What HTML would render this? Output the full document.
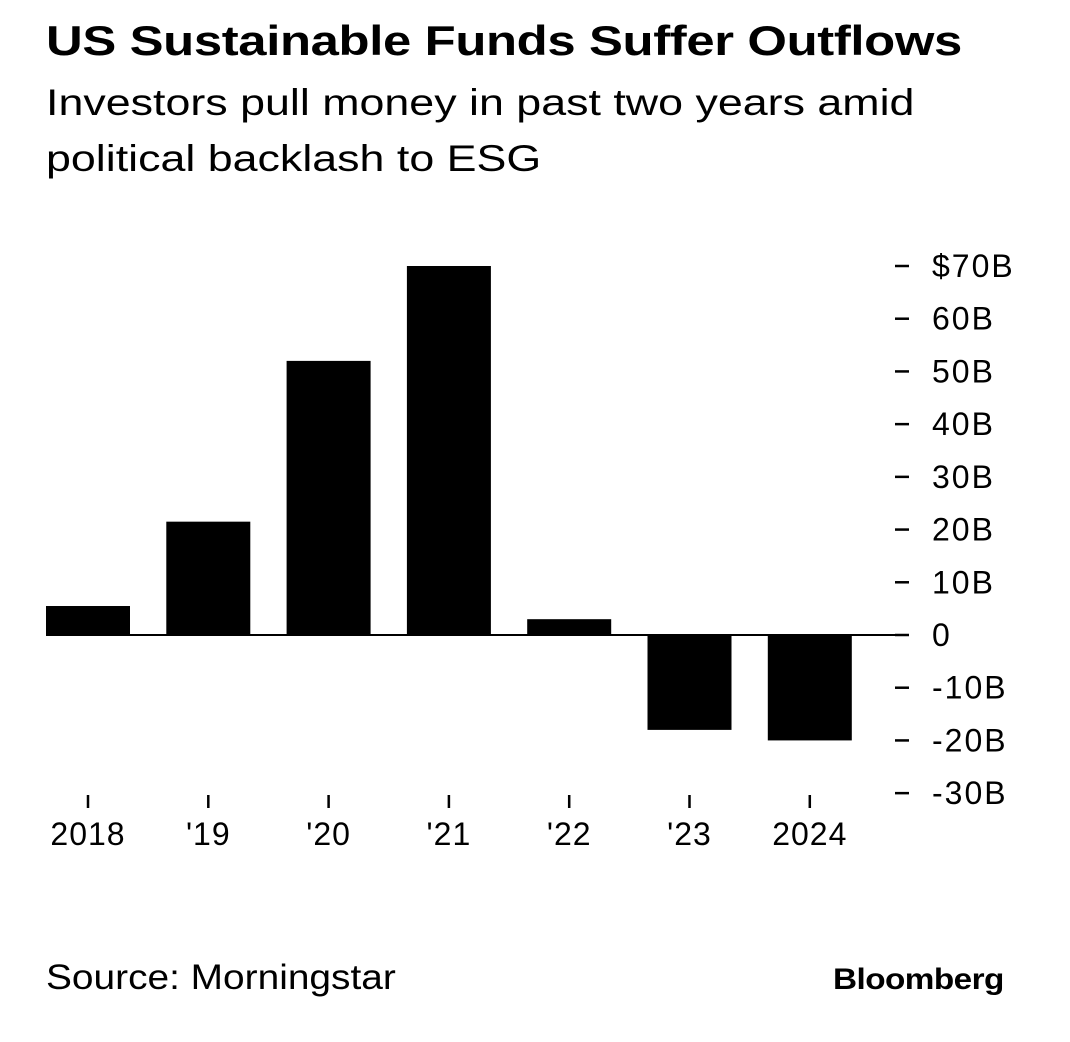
<!DOCTYPE html>
<html><head><meta charset="utf-8"><style>
body{margin:0;background:#fff;font-family:"Liberation Sans",Arial,sans-serif;color:#000}
#wrap{position:relative;width:1070px;height:1042px;overflow:hidden}
.t{position:absolute;white-space:nowrap;transform-origin:0 0}
</style></head><body>
<div id="wrap">
<div class="t" style="left:46px;top:17px;font-size:42px;font-weight:bold;letter-spacing:-0.3px;transform:scaleX(1.21)">US Sustainable Funds Suffer Outflows</div>
<div class="t" style="left:46px;top:75px;font-size:37px;line-height:56px;transform:scaleX(1.21)">Investors pull money in past two years amid<br>political backlash to ESG</div>
<svg id="chart" width="1070" height="900" style="position:absolute;left:0;top:0"></svg>
<div class="t" style="left:46px;top:958px;font-size:35px;transform:scaleX(1.11)">Source: Morningstar</div>
<div class="t" style="left:833px;top:963px;font-size:30px;font-weight:bold;letter-spacing:-0.5px;transform:scaleX(1.11)">Bloomberg</div>
</div>
<script>
const categories=["2018","'19","'20","'21","'22","'23","2024"];
const values=[5.5,21.5,52,70,3,-18,-20];
const yTicks=[70,60,50,40,30,20,10,0,-10,-20,-30];
const yTickLabels=["$70B","60B","50B","40B","30B","20B","10B","0","-10B","-20B","-30B"];
const svg=document.getElementById('chart');
const NS='http://www.w3.org/2000/svg';
const y0=635,pxPer=369/70;
function y(v){return y0-v*pxPer;}
function xc(i){return 88+i*120.3;}
const bw=84;
function el(t,a){const e=document.createElementNS(NS,t);for(const k in a)e.setAttribute(k,a[k]);svg.appendChild(e);return e;}
values.forEach((v,i)=>{
 const r=el('rect',{x:xc(i)-bw/2,y:Math.min(y(v),y0),width:bw,height:Math.abs(y(v)-y0),fill:'#000'});
 
 
 const tk=el('line',{x1:xc(i),x2:xc(i),y1:795,y2:808,stroke:'#000','stroke-width':2.5});
 
 
 const tl=el('text',{x:xc(i),y:845,'text-anchor':'middle','font-size':32,'letter-spacing':1,'font-family':'Liberation Sans, Arial, sans-serif'});
 tl.textContent=categories[i];
 
 
});
const zl=el('line',{x1:46,x2:897,y1:y0,y2:y0,stroke:'#000','stroke-width':2});


yTicks.forEach((v,i)=>{
 const d=el('line',{x1:895,x2:909,y1:y(v),y2:y(v),stroke:'#000','stroke-width':2.5});
 
 
 const t=el('text',{x:932,y:y(v)+11,'font-size':32,'letter-spacing':2,'font-family':'Liberation Sans, Arial, sans-serif'});
 t.textContent=yTickLabels[i];
 
 
});
</script>
</body></html>
